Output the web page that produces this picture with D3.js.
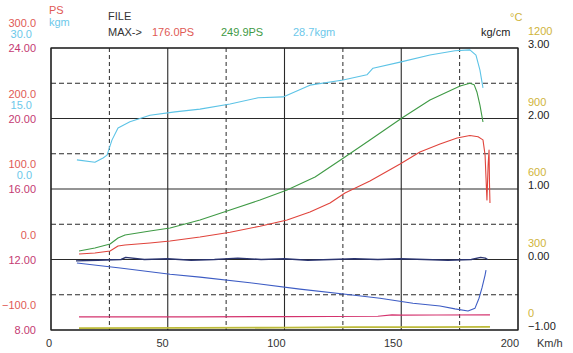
<!DOCTYPE html>
<html><head><meta charset="utf-8">
<script src="https://cdn.jsdelivr.net/npm/d3@7/dist/d3.min.js"></script>
<style>
html,body{margin:0;padding:0;background:#fff;}
svg{display:block;font-family:"Liberation Sans",Arial,sans-serif;}
</style></head>
<body>
<script>
// ---------- DATA ----------
const speedTicks = [0, 50, 100, 150, 200];
const psTicks = [300, 200, 100, 0, -100];
const kgmTicks = [30, 15, 0];
const leftTicks = [24, 20, 16, 12, 8];
const kgcmTicks = [3, 2, 1, 0, -1];
const degTicks = [1200, 900, 600, 300, 0];

const maxLabels = ["176.0PS", "249.9PS", "28.7kgm"];

// Green: PS (power)
const greenSpeed = [12.0,18.8,25.3,28.7,31.7,42.4,51.0,63.8,76.7,89.5,101.1,113.1,125.9,136.6,150.3,162.3,175.2,179.4,181.2,182.4,183.7,185.0];
const greenPS    = [12.1,16.3,22.0,30.5,34.8,40.4,44.7,56.0,70.2,84.4,98.6,117.0,145.4,169.5,200.7,226.2,246.1,249.9,248.0,237.6,219.1,195.0];

// Red: PS (wheel power)
const redSpeed = [12.0,18.8,25.3,28.7,31.7,42.4,51.0,63.8,76.7,89.5,101.1,110.9,119.5,125.9,136.6,149.5,158.0,166.6,173.9,179.4,182.9,185.0,185.9,186.3,186.7,187.2,187.6,187.8,188.0];
const redPS    = [7.8,9.2,12.1,19.1,20.6,23.4,26.2,31.9,38.7,47.2,56.0,67.4,80.2,94.3,111.3,135.5,152.5,163.8,172.3,176.0,174.0,169.7,148.2,115.6,84.4,134.0,155.3,105.7,80.2];

// Light blue: torque kgm
const torqueSpeed = [11.1,18.8,22.3,24.0,26.1,28.7,33.8,42.4,53.1,63.8,76.7,88.7,99.4,110.9,125.1,135.3,137.9,149.5,162.3,173.0,179.4,182.0,183.7,185.0];
const torqueKgm   = [6.2,5.7,6.6,7.2,10.4,13.0,14.3,15.7,16.4,17.0,18.1,19.4,19.6,22.1,23.2,24.3,25.7,27.0,28.5,29.4,29.6,28.5,25.3,21.5];

// Navy: boost kg/cm
const boostSpeed = [10.7,20,30,32,40,50,60,70,80,90,100,110,120,130,140,150,160,170,180,184,186,187];
const boostKgcm  = [-0.02,-0.01,0.0,0.03,0.0,0.01,-0.01,0.0,0.02,0.0,0.01,-0.01,0.0,0.01,0.0,0.01,0.0,-0.01,0.0,0.03,0.02,0.0];

// Blue: second pressure kg/cm
const presSpeed = [11.1,29.6,51.0,63.8,85.2,106.6,128.1,140.9,155.0,166.6,173.0,178.6,181.6,183.3,184.6,185.9,186.3];
const presKgcm  = [-0.05,-0.12,-0.21,-0.25,-0.33,-0.42,-0.50,-0.55,-0.62,-0.66,-0.70,-0.73,-0.69,-0.55,-0.40,-0.22,-0.15];

// Magenta: left scale (8-24)
const magSpeed = [12,60,100,140,146,150,165,188];
const magVal   = [8.74,8.74,8.76,8.78,8.86,8.84,8.85,8.86];

// Yellow: temperature °C
const tempSpeed = [12,60,100,130,160,188];
const tempC     = [8,9,10,12,12,13];

// ---------- DRAW ----------
const W = 573, H = 353;
const svg = d3.select("body").append("svg").attr("width", W).attr("height", H);

const L = 51, R = 518, T = 48, B = 330;
const x = d3.scaleLinear().domain([0, 200]).range([L, R]);
const yPS = d3.scaleLinear().domain([-100, 300]).range([B, T]);
const yKgm = d3.scaleLinear().domain([-30, 30]).range([B, T]);
const yLeft = d3.scaleLinear().domain([8, 24]).range([B, T]);
const yKgcm = d3.scaleLinear().domain([-1, 3]).range([B, T]);
const yDeg = d3.scaleLinear().domain([0, 1200]).range([B, T]);

const gridColor = "#2a2a2a";
// horizontal grid
const hGrid = d3.range(8, 24.01, 2);
svg.append("g").selectAll("line").data(hGrid).join("line")
  .attr("x1", L).attr("x2", R)
  .attr("y1", d => yLeft(d)).attr("y2", d => yLeft(d))
  .attr("stroke", gridColor)
  .attr("stroke-width", d => (d % 4 === 0) ? 1.1 : 1)
  .attr("stroke-dasharray", d => (d % 4 === 0) ? null : "5,3");
// vertical grid
const vGrid = d3.range(0, 200.01, 25);
svg.append("g").selectAll("line").data(vGrid).join("line")
  .attr("y1", T).attr("y2", B)
  .attr("x1", d => x(d)).attr("x2", d => x(d))
  .attr("stroke", gridColor)
  .attr("stroke-width", d => (d % 50 === 0) ? 1.1 : 1)
  .attr("stroke-dasharray", d => (d % 50 === 0) ? null : "4,3");
svg.append("rect").attr("x", L).attr("y", T).attr("width", R - L).attr("height", B - T)
  .attr("fill", "none").attr("stroke", "#222").attr("stroke-width", 1.2);

// series
function drawLine(xs, ys, yScale, color, w) {
  const pts = xs.map((s, i) => [s, ys[i]]);
  svg.append("path").datum(pts)
    .attr("fill", "none").attr("stroke", color).attr("stroke-width", w)
    .attr("stroke-linejoin", "round")
    .attr("d", d3.line().x(d => x(d[0])).y(d => yScale(d[1])));
}
drawLine(tempSpeed, tempC, yDeg, "#bdbb3a", 1.8);
drawLine(magSpeed, magVal, yLeft, "#d4336e", 1.2);
drawLine(presSpeed, presKgcm, yKgcm, "#3d5cc4", 1.1);
drawLine(boostSpeed, boostKgcm, yKgcm, "#2b3570", 1.4);
drawLine(torqueSpeed, torqueKgm, yKgm, "#5cc3e6", 1.1);
drawLine(greenSpeed, greenPS, yPS, "#3f9a45", 1.1);
drawLine(redSpeed, redPS, yPS, "#e0443c", 1.1);

// ---------- TEXT ----------
const fs = 11;
const cRed = "#e05a55", cBlue = "#6cc8ea", cMag = "#c43a72", cYel = "#cfb43a", cDark = "#333";
function txt(s, tx, ty, color, anchor) {
  svg.append("text").attr("x", tx).attr("y", ty).attr("fill", color)
    .attr("font-size", fs).attr("text-anchor", anchor || "start").text(s);
}
// left axis groups
psTicks.forEach(v => txt(d3.format(".1f")(v), 36, yPS(v) - 21, cRed, "end"));
kgmTicks.forEach(v => txt(d3.format(".1f")(v), 32, yKgm(v) - 10, cBlue, "end"));
leftTicks.forEach(v => txt(d3.format(".2f")(v), 36, yLeft(v) + 4, cMag, "end"));
txt("PS", 49, 14, cRed);
txt("kgm", 49, 26, cBlue);
// right axis
degTicks.forEach(v => txt(String(v), 528, yDeg(v) - 13, cYel));
kgcmTicks.forEach(v => txt(d3.format(".2f")(v), 528, yKgcm(v), "#222"));
txt("\u00B0C", 510, 21, cYel);
txt("kg/cm", 481, 36, "#222");
// header
txt("FILE", 108, 20, cDark);
txt("MAX->", 108, 36, cDark);
txt(maxLabels[0], 152, 36, cRed);
txt(maxLabels[1], 221, 36, "#3f9a45");
txt(maxLabels[2], 293, 36, cBlue);
// x axis
speedTicks.forEach(v => txt(String(v), x(v) + 1, 347, cDark, "end"));
txt("Km/h", 537, 347, cDark);
</script>
</body></html>
